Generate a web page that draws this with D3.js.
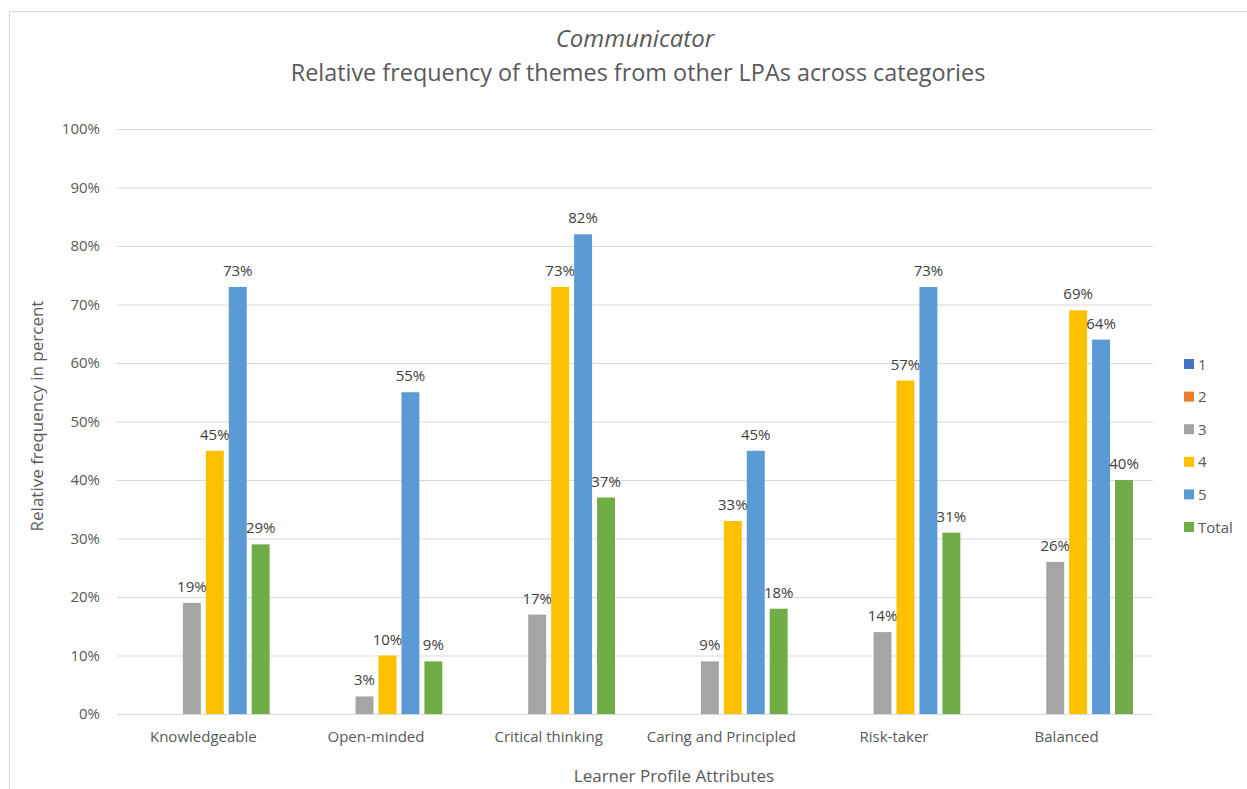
<!DOCTYPE html>
<html><head><meta charset="utf-8">
<script src="https://cdn.jsdelivr.net/npm/d3@7/dist/d3.min.js"></script>
<style>body{margin:0;background:#fff;}svg{display:block;}text{font-family:"Open Sans",sans-serif;}</style>
</head><body>
<script>
const categories = ["Knowledgeable","Open-minded","Critical thinking","Caring and Principled","Risk-taker","Balanced"];
const seriesNames = ["1","2","3","4","5","Total"];
const s1 = [0,0,0,0,0,0];
const s2 = [0,0,0,0,0,0];
const s3 = [19,3,17,9,14,26];
const s4 = [45,10,73,33,57,69];
const s5 = [73,55,82,45,73,64];
const sTotal = [29,9,37,18,31,40];
const seriesColors = ["#4472C4","#ED7D31","#A5A5A5","#FFC000","#5B9BD5","#70AD47"];
const yTicks = [0,10,20,30,40,50,60,70,80,90,100];
const allSeries = [s1,s2,s3,s4,s5,sTotal];

const W=1247,H=789;
const svg=d3.select("body").append("svg").attr("width",W).attr("height",H);
svg.append("rect").attr("x",9.5).attr("y",11.5).attr("width",W).attr("height",H).attr("fill","#fff").attr("stroke","#d9d9d9");

const pLeft=117,pRight=1153,pTop=129,pBottom=714;
const x0=d3.scaleBand().domain(categories).range([pLeft,pRight]).padding(0);
const x1=d3.scaleBand().domain(seriesNames).range([20,x0.bandwidth()-20]).paddingInner(5/23);
const y=d3.scaleLinear().domain([0,100]).range([pBottom,pTop]);

// gridlines
svg.append("g").selectAll("line").data(yTicks).join("line")
  .attr("x1",pLeft).attr("x2",pRight).attr("y1",d=>y(d)+0.5).attr("y2",d=>y(d)+0.5)
  .attr("stroke","#d9d9d9").attr("stroke-width",1);
// y tick labels
svg.append("g").selectAll("text").data(yTicks).join("text")
  .attr("x",100).attr("y",d=>y(d)+5).attr("text-anchor","end")
  .attr("font-size",15).attr("fill","#595959").text(d=>d+"%");

// bars
const g=svg.append("g");
categories.forEach((c,ci)=>{
  seriesNames.forEach((s,si)=>{
    const v=allSeries[si][ci];
    const bx=x0(c)+x1(s);
    if(v>0){
      g.append("rect").attr("x",bx).attr("y",y(v)).attr("width",x1.bandwidth()).attr("height",pBottom-y(v))
        .attr("fill",seriesColors[si]);
      g.append("text").attr("x",bx+x1.bandwidth()/2).attr("y",y(v)-11).attr("text-anchor","middle")
        .attr("font-size",15).attr("fill","#404040").text(v+"%");
    }
  });
});

// category labels
svg.append("g").selectAll("text").data(categories).join("text")
  .attr("x",d=>x0(d)+x0.bandwidth()/2).attr("y",742).attr("text-anchor","middle")
  .attr("font-size",15).attr("fill","#595959").text(d=>d);

// titles
svg.append("text").attr("x",635).attr("y",47).attr("text-anchor","middle").attr("font-size",24)
  .attr("font-style","italic").attr("fill","#595959").text("Communicator");
svg.append("text").attr("x",638).attr("y",81).attr("text-anchor","middle").attr("font-size",23.4)
  .attr("fill","#595959").text("Relative frequency of themes from other LPAs across categories");
svg.append("text").attr("x",674).attr("y",782).attr("text-anchor","middle").attr("font-size",17)
  .attr("fill","#595959").text("Learner Profile Attributes");
svg.append("text").attr("transform","translate(43,416) rotate(-90)").attr("text-anchor","middle").attr("font-size",17)
  .attr("fill","#595959").text("Relative frequency in percent");

// legend
const lg=svg.append("g");
seriesNames.forEach((s,i)=>{
  const ly=364+i*32.6;
  lg.append("rect").attr("x",1184).attr("y",ly-5).attr("width",10).attr("height",10).attr("fill",seriesColors[i]);
  lg.append("text").attr("x",1198).attr("y",ly+5.5).attr("font-size",15).attr("fill","#595959").text(s);
});
</script>
</body></html>
